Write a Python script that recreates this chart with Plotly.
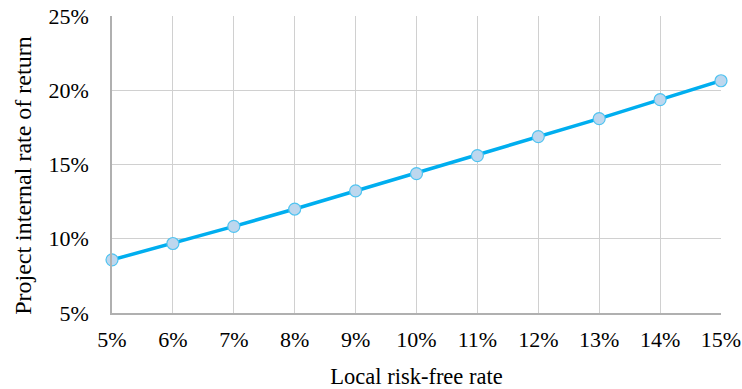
import plotly.graph_objects as go

risk_free = [5, 6, 7, 8, 9, 10, 11, 12, 13, 14, 15]
irr = [8.58, 9.68, 10.83, 12.0, 13.22, 14.39, 15.6, 16.88, 18.09, 19.37, 20.64]
x_ticks = list(range(5, 16))
y_ticks = [5, 10, 15, 20, 25]

fig = go.Figure()
fig.add_trace(go.Scatter(
    x=risk_free, y=irr, mode="lines+markers",
    line=dict(color="#00AEEF", width=3.5),
    marker=dict(size=12, color="#BDD7EE", line=dict(color="#4FC3F0", width=1.2)),
    cliponaxis=False, showlegend=False,
))

family = "Liberation Serif, Times New Roman, serif"
tick_font = dict(family=family, size=22, color="#000000")
fig.update_layout(
    width=742, height=389,
    margin=dict(l=112, r=21, t=16, b=76),
    paper_bgcolor="white", plot_bgcolor="white",
    font=tick_font,
)
fig.update_xaxes(
    range=[5, 15], tickvals=x_ticks, ticktext=[f"{v}%" for v in x_ticks],
    showgrid=True, gridcolor="#D0D0D0", gridwidth=1,
    showline=True, linecolor="#B0B0B0", linewidth=1.5,
    zeroline=False, ticks="", ticklen=0, ticklabelstandoff=6,
    automargin=False,
    title=dict(text="Local risk-free rate", font=dict(family=family, size=22.5, color="#000000"), standoff=17),
    tickfont=tick_font,
)
fig.update_yaxes(
    range=[5, 25], tickvals=y_ticks, ticktext=[f"{v}%" for v in y_ticks],
    showgrid=True, gridcolor="#D0D0D0", gridwidth=1,
    showline=True, linecolor="#B0B0B0", linewidth=1.5, mirror=False,
    zeroline=False, ticks="", ticklen=0, ticklabelstandoff=17,
    automargin=False,
    tickfont=tick_font,
)
fig.add_annotation(
    text="Project internal rate of return", textangle=-90,
    xref="paper", yref="paper", x=-0.146, y=0.462,
    xanchor="center", yanchor="middle", showarrow=False,
    font=dict(family=family, size=24, color="#000000"),
)
fig.write_html(
    "out.html",
    config={"displayModeBar": False},
    post_script="document.body.style.margin='0';document.body.style.padding='0';",
)
